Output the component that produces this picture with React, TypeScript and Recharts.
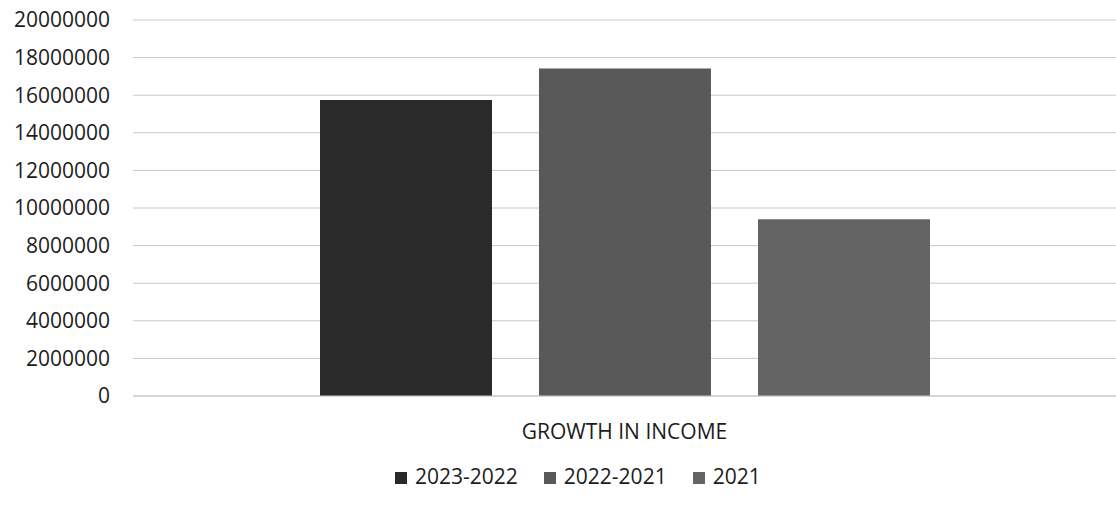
import React from 'react';
import { BarChart, Bar, XAxis, YAxis, CartesianGrid, Legend } from 'recharts';

const categories = ['GROWTH IN INCOME'];
const seriesNames = ['2023-2022', '2022-2021', '2021'];
const values2023_2022 = [15750000];
const values2022_2021 = [17420000];
const values2021 = [9400000];
const yTicks = [0, 2000000, 4000000, 6000000, 8000000, 10000000, 12000000, 14000000, 16000000, 18000000, 20000000];
const colors = ['#2a2a2a', '#595959', '#646464'];

const data = categories.map((name, i) => ({
  name,
  [seriesNames[0]]: values2023_2022[i],
  [seriesNames[1]]: values2022_2021[i],
  [seriesNames[2]]: values2021[i],
}));

const FONT = '"Open Sans", sans-serif';

const renderLegend = (props: any) => {
  const payload = [...(props.payload || [])].sort(
    (a: any, b: any) => seriesNames.indexOf(a.value) - seriesNames.indexOf(b.value)
  );
  return (
    <div style={{ display: 'flex', alignItems: 'center', height: 30, paddingLeft: 395, fontFamily: FONT, fontSize: 21, color: '#1c1c1c' }}>
      {payload.map((entry: any, i: number) => (
        <div key={i} style={{ display: 'flex', alignItems: 'center', marginRight: 26 }}>
          <span style={{ display: 'inline-block', width: 12, height: 12, background: entry.color, marginRight: 8, marginTop: 4 }} />
          <span>{entry.value}</span>
        </div>
      ))}
    </div>
  );
};

export default function App() {
  return (
    <div style={{ position: 'absolute', left: 0, top: 0, width: 1116, height: 516, background: '#fff' }}>
      <BarChart
        width={1116}
        height={516}
        data={data}
        margin={{ top: 20, right: 0, left: 0, bottom: 30 }}
        barGap={47}
        barSize={172}
      >
        <CartesianGrid vertical={false} stroke="#c8c8c8" strokeWidth={1} />
        <XAxis
          dataKey="name"
          height={60}
          tickLine={false}
          axisLine={{ stroke: '#c8c8c8' }}
          tickMargin={22}
          tick={{ fontFamily: FONT, fontSize: 21, fill: '#1c1c1c' }}
        />
        <YAxis
          width={133}
          domain={[0, 20000000]}
          ticks={yTicks}
          interval={0}
          tickLine={false}
          axisLine={false}
          tickSize={0}
          tickMargin={23}
          tick={{ fontFamily: FONT, fontSize: 21, fill: '#1c1c1c' }}
        />
        <Legend content={renderLegend} wrapperStyle={{ left: 0, top: 461, width: 1116, height: 30 }} />
        {seriesNames.map((s, i) => (
          <Bar key={s} dataKey={s} fill={colors[i]} isAnimationActive={false} />
        ))}
      </BarChart>
    </div>
  );
}
